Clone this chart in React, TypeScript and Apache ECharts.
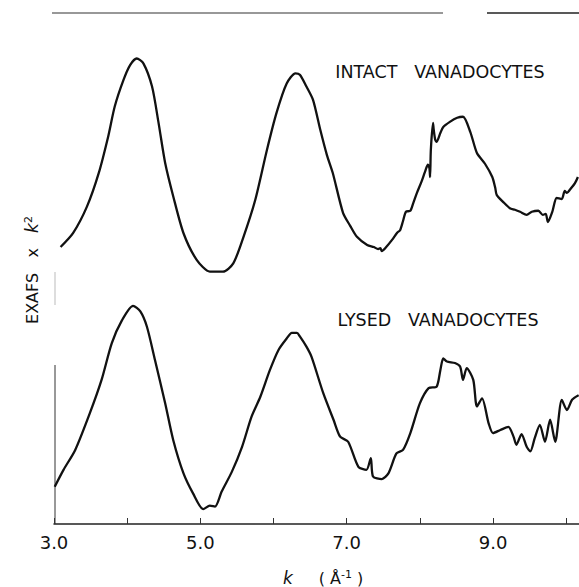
import React, { useEffect, useRef } from "react";
import * as echarts from "echarts";

// k (Å^-1) and EXAFS x k^2 (arbitrary units)
const intactK = [3.09, 3.26, 3.45, 3.61, 3.74, 3.83, 3.95, 4.04, 4.13, 4.22, 4.34, 4.43, 4.52, 4.63, 4.77, 4.95, 5.13, 5.31, 5.45, 5.59, 5.75, 5.91, 6.04, 6.18, 6.3, 6.36, 6.45, 6.54, 6.64, 6.73, 6.81, 6.95, 7.05, 7.14, 7.28, 7.37, 7.43, 7.46, 7.48, 7.54, 7.62, 7.69, 7.73, 7.77, 7.81, 7.87, 7.91, 7.96, 8.02, 8.07, 8.11, 8.13, 8.14, 8.15, 8.18, 8.19, 8.21, 8.23, 8.28, 8.32, 8.41, 8.51, 8.59, 8.69, 8.78, 8.89, 8.99, 9.03, 9.05, 9.14, 9.23, 9.3, 9.37, 9.46, 9.53, 9.62, 9.68, 9.72, 9.75, 9.81, 9.87, 9.94, 9.98, 10.01, 10.05, 10.12, 10.16];
const intactValues = [5.42, 5.69, 6.21, 6.86, 7.58, 8.17, 8.69, 8.98, 9.11, 9.02, 8.56, 7.84, 7.06, 6.41, 5.69, 5.17, 4.94, 4.94, 5.1, 5.62, 6.34, 7.32, 8.04, 8.62, 8.82, 8.79, 8.56, 8.3, 7.71, 7.22, 6.87, 6.09, 5.83, 5.62, 5.46, 5.42, 5.38, 5.4, 5.34, 5.42, 5.56, 5.7, 5.75, 5.93, 6.11, 6.13, 6.28, 6.48, 6.69, 6.89, 7.03, 6.97, 6.79, 7.32, 7.85, 7.71, 7.52, 7.48, 7.65, 7.77, 7.87, 7.95, 7.97, 7.67, 7.26, 7.05, 6.79, 6.58, 6.44, 6.3, 6.18, 6.15, 6.11, 6.05, 6.11, 6.13, 6.05, 6.07, 5.91, 6.11, 6.38, 6.36, 6.52, 6.48, 6.54, 6.67, 6.79];

const lysedK = [3.01, 3.13, 3.29, 3.49, 3.65, 3.79, 3.93, 4.08, 4.18, 4.27, 4.38, 4.52, 4.63, 4.77, 4.9, 5.04, 5.13, 5.2, 5.29, 5.43, 5.57, 5.7, 5.82, 5.95, 6.07, 6.18, 6.25, 6.32, 6.36, 6.45, 6.52, 6.68, 6.82, 6.91, 7.02, 7.16, 7.27, 7.33, 7.36, 7.48, 7.57, 7.68, 7.77, 7.87, 8.0, 8.12, 8.23, 8.28, 8.32, 8.37, 8.48, 8.55, 8.59, 8.64, 8.73, 8.78, 8.85, 8.94, 9.0, 9.1, 9.21, 9.28, 9.32, 9.39, 9.46, 9.51, 9.57, 9.64, 9.71, 9.78, 9.85, 9.94, 10.01, 10.08, 10.17];
const lysedValues = [0.73, 1.06, 1.45, 2.17, 2.82, 3.54, 3.99, 4.27, 4.16, 3.86, 3.21, 2.36, 1.64, 0.99, 0.6, 0.29, 0.36, 0.34, 0.63, 1.02, 1.51, 2.1, 2.49, 3.01, 3.41, 3.63, 3.74, 3.74, 3.67, 3.47, 3.27, 2.56, 2.04, 1.71, 1.61, 1.12, 1.06, 1.29, 0.93, 0.88, 0.99, 1.38, 1.45, 1.78, 2.36, 2.66, 2.69, 3.01, 3.24, 3.18, 3.15, 3.08, 2.82, 3.05, 2.82, 2.3, 2.46, 1.97, 1.78, 1.84, 1.9, 1.71, 1.55, 1.76, 1.51, 1.42, 1.68, 1.94, 1.61, 2.04, 1.61, 2.43, 2.23, 2.43, 2.52];

const tickLabels = [3, 5, 7, 9];
const intactLabel = "INTACT   VANADOCYTES";
const lysedLabel = "LYSED   VANADOCYTES";

const FONT = "DejaVu Sans";

export default function App() {
  const ref = useRef<HTMLDivElement>(null);
  useEffect(() => {
    if (!ref.current) return;
    const chart = echarts.init(ref.current, null, { renderer: "svg" });
    const intactData = intactK.map((k, i) => [k, intactValues[i]]);
    const lysedData = lysedK.map((k, i) => [k, lysedValues[i]]);
    chart.setOption({
      animation: false,
      backgroundColor: "#fff",
      grid: { left: 54, right: 0, top: 13, bottom: 63 },
      xAxis: {
        type: "value",
        min: 3,
        max: 10.175,
        interval: 1,
        splitLine: { show: false },
        axisLine: { show: true, lineStyle: { color: "#222", width: 1.5 } },
        axisTick: { show: true, inside: true, length: 6, lineStyle: { color: "#333", width: 1 } },
        axisLabel: {
          margin: 9,
          showMaxLabel: false,
          color: "#111",
          fontFamily: FONT,
          fontSize: 18,
          formatter: (v: number) => (tickLabels.indexOf(Math.round(v * 1000) / 1000) >= 0 ? v.toFixed(1) : ""),
        },
      },
      yAxis: { type: "value", min: 0, max: 10, show: false },
      series: [
        {
          type: "line",
          data: intactData,
          showSymbol: false,
          smooth: 0.25,
          lineStyle: { color: "#111", width: 2.3 },
        },
        {
          type: "line",
          data: lysedData,
          showSymbol: false,
          smooth: 0.25,
          lineStyle: { color: "#111", width: 2.3 },
        },
      ],
      graphic: [
        { type: "line", shape: { x1: 52, y1: 13, x2: 443, y2: 13 }, style: { stroke: "#333", lineWidth: 1.2 } },
        { type: "line", shape: { x1: 487, y1: 13, x2: 579, y2: 13 }, style: { stroke: "#222", lineWidth: 1.5 } },
        { type: "line", shape: { x1: 55, y1: 365, x2: 55, y2: 524 }, style: { stroke: "#333", lineWidth: 1 } },
        { type: "line", shape: { x1: 55, y1: 272, x2: 55, y2: 305 }, style: { stroke: "#bbb", lineWidth: 1 } },
        {
          type: "text",
          x: 440,
          y: 72,
          style: { text: intactLabel, fill: "#111", font: `17.5px '${FONT}'`, align: "center", verticalAlign: "middle" },
        },
        {
          type: "text",
          x: 438,
          y: 320,
          style: { text: lysedLabel, fill: "#111", font: `17.5px '${FONT}'`, align: "center", verticalAlign: "middle" },
        },
        {
          type: "text",
          x: 288,
          y: 578,
          style: { text: "k", fill: "#111", font: `italic 17px '${FONT}'`, align: "center", verticalAlign: "middle" },
        },
        {
          type: "text",
          x: 341,
          y: 578,
          style: {
            text: "{n|( Å}{s|-1}{n| )}",
            align: "center",
            verticalAlign: "middle",
            fill: "#111",
            rich: {
              n: { fontFamily: FONT, fontSize: 16, fill: "#111" },
              s: { fontFamily: FONT, fontSize: 11, fill: "#111", verticalAlign: "top", padding: [0, 0, 8, 0] },
            },
          },
        },
        {
          type: "text",
          x: 32,
          y: 270,
          rotation: Math.PI / 2,
          style: {
            text: "{n|EXAFS   x   }{i|k}{s|2}",
            align: "center",
            verticalAlign: "middle",
            fill: "#111",
            rich: {
              i: { fontFamily: FONT, fontStyle: "italic", fontSize: 17, fill: "#111" },
              n: { fontFamily: FONT, fontSize: 16, fill: "#111" },
              s: { fontFamily: FONT, fontSize: 11, fill: "#111", verticalAlign: "top", padding: [0, 0, 8, 0] },
            },
          },
        },
      ],
    });
    return () => chart.dispose();
  }, []);
  return (
    <div
      ref={ref}
      style={{ position: "absolute", left: 0, top: 0, width: 579, height: 587 }}
    />
  );
}
